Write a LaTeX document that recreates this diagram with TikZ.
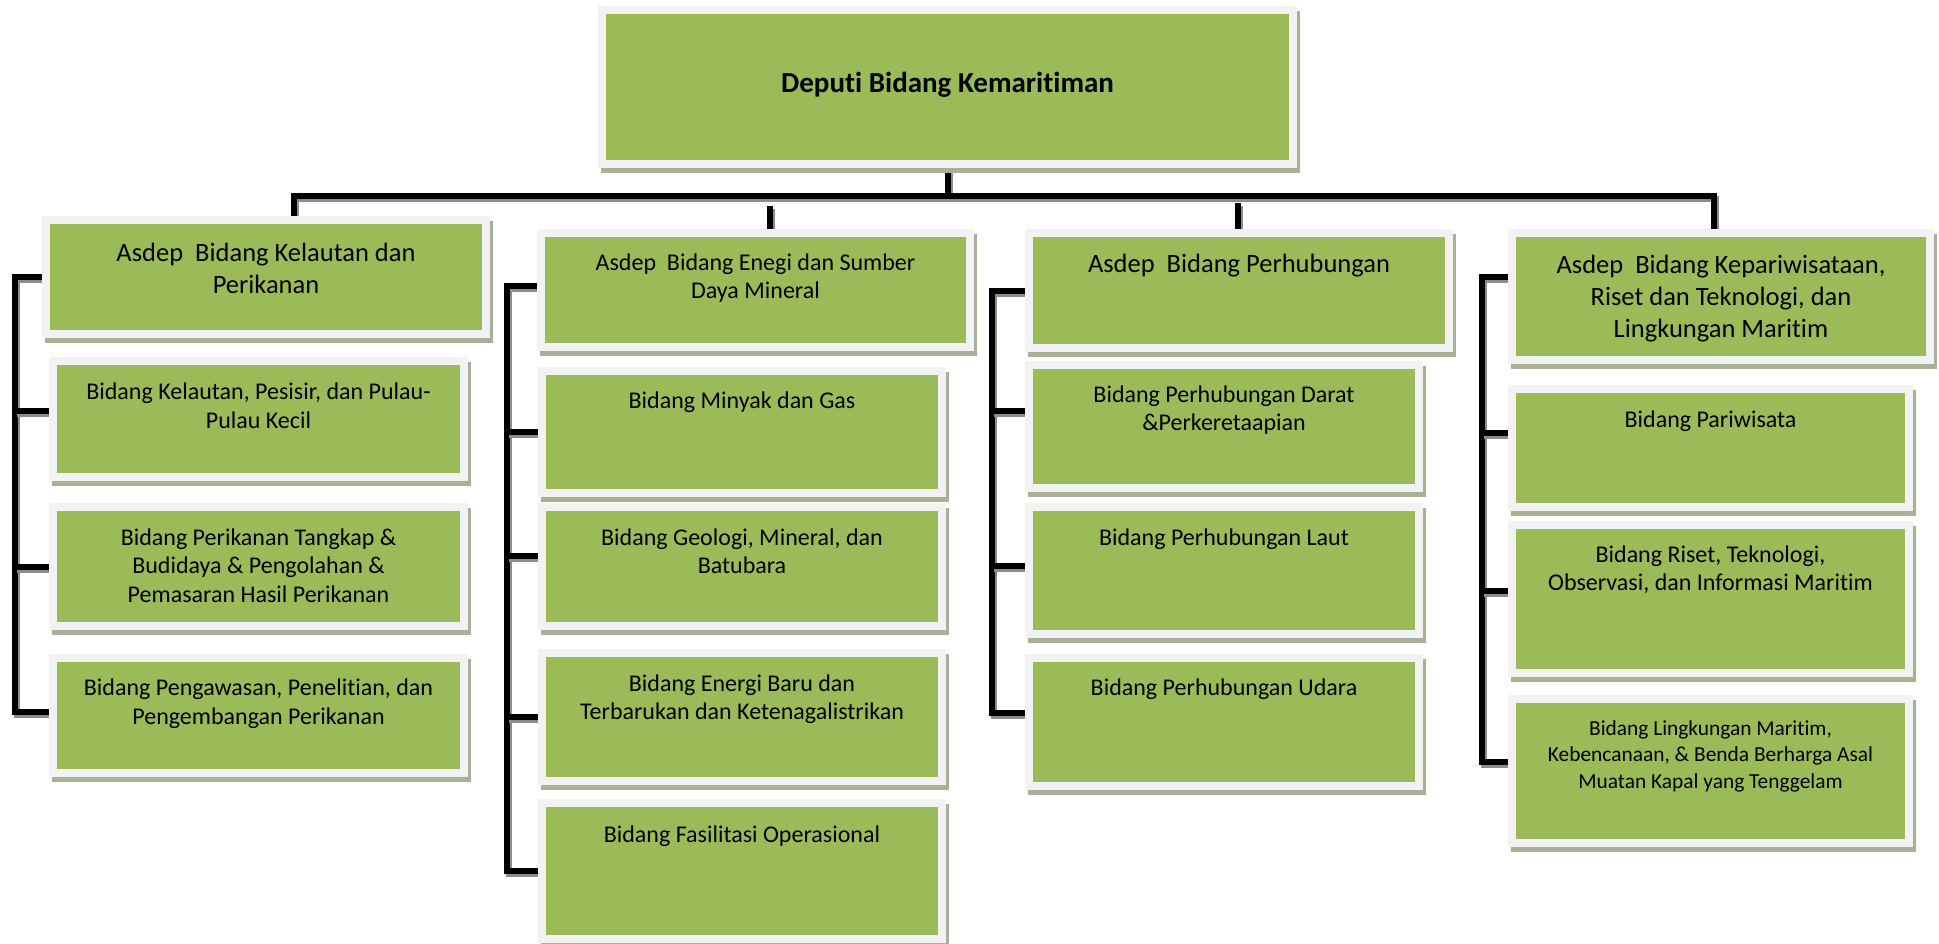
\documentclass[tikz,border=0pt]{standalone}
\usepackage{fontspec}
\setmainfont{Carlito}[Ligatures={NoCommon,NoContextual}]
\usetikzlibrary{calc}
\definecolor{boxgreen}{HTML}{9BBB59}
\definecolor{framegray}{HTML}{F2F2F2}
\definecolor{shadowgreen}{HTML}{A7B196}
\definecolor{lineshadow}{HTML}{8C8C8C}
\pgfdeclarelayer{bg}
\pgfsetlayers{bg,main}
\tikzset{
  orgbox/.style={rectangle, draw=framegray, line width=8pt, fill=boxgreen,
    inner sep=0pt, outer sep=4pt,
    preaction={draw=shadowgreen, fill=shadowgreen, line width=8pt,
      transform canvas={shift={(3pt,-5pt)}}}},
  conn/.style={line width=6pt, black, line join=miter, line cap=butt,
    preaction={draw=lineshadow, line width=6pt,
      transform canvas={shift={(2pt,-3pt)}}}},
  txt/.style={align=center, inner sep=0pt, text=black},
  bigtxt/.style={txt, font=\fontsize{26.5}{32}\selectfont},
  midtxt/.style={txt, font=\fontsize{24}{28.5}\selectfont},
  smltxt/.style={txt, font=\fontsize{21.4}{26.5}\selectfont},
  titletxt/.style={txt, font=\bfseries\fontsize{29}{34}\selectfont},
}
\newcommand\orgnode[5]{\node[orgbox, minimum width={(#4)-(#2)-8}, minimum height={(#5)-(#3)-8}] (#1) at ({((#2)+(#4))/2},{((#3)+(#5))/2}) {};}
\begin{document}
\begin{tikzpicture}[x=1pt,y=-1pt]
\useasboundingbox (0,0) rectangle (1939,944);
% boxes
\orgnode{top}{598}{6}{1297}{168}
\orgnode{a1}{42}{216}{490}{338}
\orgnode{b11}{49}{357}{468}{481}
\orgnode{b12}{49}{503}{468}{630}
\orgnode{b13}{49}{654}{468}{777}
\orgnode{a2}{537}{229}{974}{351}
\orgnode{b21}{538}{367}{946}{497}
\orgnode{b22}{538}{503}{946}{630}
\orgnode{b23}{538}{649}{946}{785}
\orgnode{b24}{538}{799}{946}{943}
\orgnode{a3}{1025}{229}{1453}{352}
\orgnode{b31}{1025}{361}{1423}{492}
\orgnode{b32}{1025}{503}{1423}{638}
\orgnode{b33}{1025}{654}{1423}{790}
\orgnode{a4}{1508}{229}{1934}{364}
\orgnode{b41}{1508}{385}{1913}{511}
\orgnode{b42}{1508}{521}{1913}{677}
\orgnode{b43}{1508}{695}{1913}{847}
% texts
\node[titletxt] (ttop) at (947.5,85) {Deputi Bidang Kemaritiman};
\node[bigtxt] (ta1) at (266,271) {\strut Asdep\ \ Bidang Kelautan dan\\\strut Perikanan};
\node[midtxt] (tb11) at (258.5,408.5) {\strut Bidang Kelautan, Pesisir, dan Pulau-\\\strut Pulau Kecil};
\node[midtxt] (tb12) at (258.5,568) {\strut Bidang Perikanan Tangkap \&\\\strut Budidaya \& Pengolahan \&\\\strut Pemasaran Hasil Perikanan};
\node[midtxt] (tb13) at (258.5,704.5) {\strut Bidang Pengawasan, Penelitian, dan\\\strut Pengembangan Perikanan};
\node[midtxt] (ta2) at (755.5,279) {\strut Asdep\ \ Bidang Enegi dan Sumber\\\strut Daya Mineral};
\node[midtxt] (tb21) at (742,403) {\strut Bidang Minyak dan Gas};
\node[midtxt] (tb22) at (742,554) {\strut Bidang Geologi, Mineral, dan\\\strut Batubara};
\node[midtxt] (tb23) at (742,700) {\strut Bidang Energi Baru dan\\\strut Terbarukan dan Ketenagalistrikan};
\node[midtxt] (tb24) at (742,837) {\strut Bidang Fasilitasi Operasional};
\node[bigtxt] (ta3) at (1239,266) {\strut Asdep\ \ Bidang Perhubungan};
\node[midtxt] (tb31) at (1224,411) {\strut Bidang Perhubungan Darat\\\strut \&Perkeretaapian};
\node[midtxt] (tb32) at (1224,540) {\strut Bidang Perhubungan Laut};
\node[midtxt] (tb33) at (1224,690) {\strut Bidang Perhubungan Udara};
\node[bigtxt] (ta4) at (1721,299) {\strut Asdep\ \ Bidang Kepariwisataan,\\\strut Riset dan Teknologi, dan\\\strut Lingkungan Maritim};
\node[midtxt] (tb41) at (1710.5,422) {\strut Bidang Pariwisata};
\node[midtxt] (tb42) at (1710.5,571) {\strut Bidang Riset, Teknologi,\\\strut Observasi, dan Informasi Maritim};
\node[smltxt] (tb43) at (1710.5,756.5) {\strut Bidang Lingkungan Maritim,\\\strut Kebencanaan, \& Benda Berharga Asal\\\strut Muatan Kapal yang Tenggelam};
% connector coordinates
\coordinate (busL) at (294,196);
\coordinate (busR) at (1714,196);
\coordinate (d2) at (770,206);
\coordinate (d3) at (1238,203);
\coordinate (v1) at (15,0);
\coordinate (v2) at (507,0);
\coordinate (v3) at (992,0);
\coordinate (v4) at (1482,0);
\coordinate (s11) at ([yshift=8pt]b11.west);
\coordinate (s13) at ([yshift=3.5pt]b13.west);
\coordinate (s2a) at ([yshift=4pt]a2.west);
\coordinate (s22) at ([yshift=10.5pt]b22.west);
\coordinate (s31) at ([yshift=15.5pt]b31.west);
\coordinate (s32) at ([yshift=4.5pt]b32.west);
\coordinate (s33) at ([yshift=9pt]b33.west);
\coordinate (s4a) at ([yshift=19.5pt]a4.west);
\coordinate (s41) at ([yshift=15pt]b41.west);
\coordinate (s42) at ([yshift=8pt]b42.west);
\coordinate (s43) at ([yshift=9pt]b43.west);
\begin{pgfonlayer}{bg}
\draw[conn] (top.south) -- (top.south |- busL);
\draw[conn] (a1.north -| busL) -- (busL) -- (busR) -- (a4.north -| busR);
\draw[conn] (d2) -- (d2 |- a2.north);
\draw[conn] (d3) -- (d3 |- a3.north);
% column 1
\draw[conn] (a1.west) -- (a1.west -| v1) -- (s13 -| v1) -- (s13);
\draw[conn] (s11 -| v1) -- (s11);
\draw[conn] (b12.west -| v1) -- (b12.west);
% column 2
\draw[conn] (s2a) -- (s2a -| v2) -- (b24.west -| v2) -- (b24.west);
\draw[conn] (b21.west -| v2) -- (b21.west);
\draw[conn] (s22 -| v2) -- (s22);
\draw[conn] (b23.west -| v2) -- (b23.west);
% column 3
\draw[conn] (a3.west) -- (a3.west -| v3) -- (s33 -| v3) -- (s33);
\draw[conn] (s31 -| v3) -- (s31);
\draw[conn] (s32 -| v3) -- (s32);
% column 4
\draw[conn] (s4a) -- (s4a -| v4) -- (s43 -| v4) -- (s43);
\draw[conn] (s41 -| v4) -- (s41);
\draw[conn] (s42 -| v4) -- (s42);
\end{pgfonlayer}
\end{tikzpicture}
\end{document}
